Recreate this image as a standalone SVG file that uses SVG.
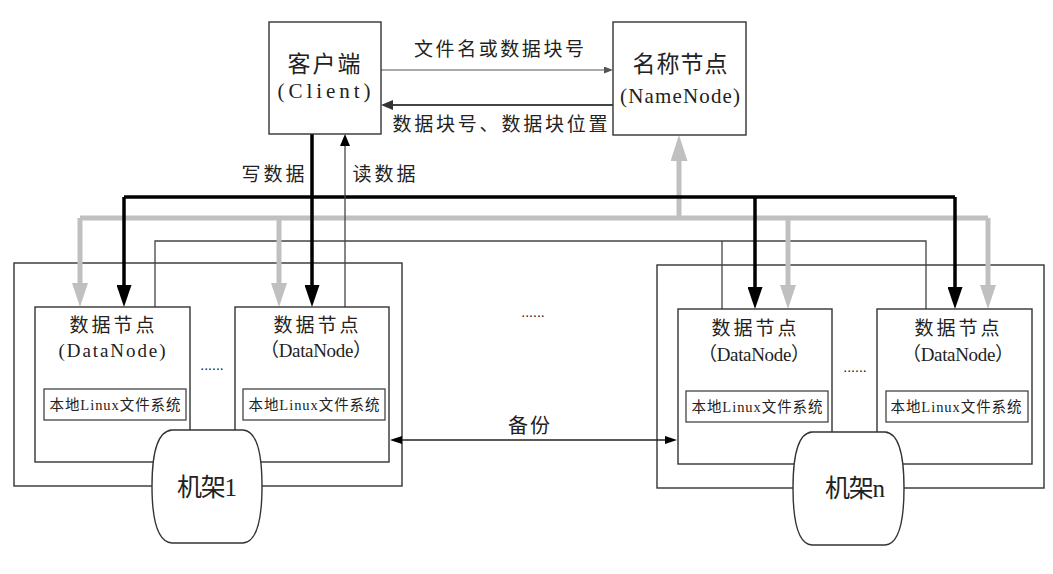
<svg xmlns="http://www.w3.org/2000/svg" width="1053" height="574" viewBox="0 0 1053 574">
<style>
.box{fill:#fff;stroke:#333;stroke-width:1.4}
.rack{fill:none;stroke:#333;stroke-width:1.4}
.inner{fill:#fff;stroke:#444;stroke-width:1.3}
.cn{font-family:"Noto Sans CJK SC",sans-serif;fill:#222}
.mono{font-family:"Liberation Serif","Noto Sans CJK SC",serif;fill:#222}
.dots{font-family:"Liberation Sans",sans-serif;font-size:14px;fill:#111}
.blk{fill:none;stroke:#000;stroke-width:3.5}
.gry{fill:none;stroke:#c0c0c0;stroke-width:5}
.thin{fill:none;stroke:#444;stroke-width:1.3}
</style>
<defs>
<marker id="ak" markerUnits="userSpaceOnUse" orient="auto" markerWidth="22" markerHeight="15" refX="0" refY="7.5"><path d="M0,0 L22,7.5 L0,15 Z" fill="#000"/></marker>
<marker id="ag" markerUnits="userSpaceOnUse" orient="auto" markerWidth="24" markerHeight="16" refX="0" refY="8"><path d="M0,0 L24,8 L0,16 Z" fill="#c0c0c0"/></marker>
<marker id="agu" markerUnits="userSpaceOnUse" orient="auto" markerWidth="26" markerHeight="17" refX="0" refY="8.5"><path d="M0,0 L26,8.5 L0,17 Z" fill="#c0c0c0"/></marker>
<marker id="as" markerUnits="userSpaceOnUse" orient="auto" markerWidth="12" markerHeight="10" refX="0" refY="5"><path d="M0,0 L12,5 L0,10 Z" fill="#000"/></marker>
<marker id="at" markerUnits="userSpaceOnUse" orient="auto" markerWidth="9" markerHeight="7" refX="0" refY="3.5"><path d="M0,0 L9,3.5 L0,7 Z" fill="#555"/></marker>
<marker id="am" markerUnits="userSpaceOnUse" orient="auto" markerWidth="12" markerHeight="10" refX="0" refY="5"><path d="M0,0 L12,5 L0,10 Z" fill="#333"/></marker>
<marker id="ab" markerUnits="userSpaceOnUse" orient="auto-start-reverse" markerWidth="12" markerHeight="8" refX="0" refY="4"><path d="M0,0 L12,4 L0,8 Z" fill="#000"/></marker>
</defs>
<rect width="1053" height="574" fill="#fff"/>

<g id="rack1-frame"><rect class="rack" x="14" y="263" width="388" height="223"/></g>
<g id="rackn-frame"><rect class="rack" x="657" y="265" width="387" height="223"/></g>

<g id="connectors">
<path class="thin" d="M155,307 V241 H926 V309"/>
<path class="thin" d="M722,241 V309"/>
<path class="gry" d="M80,218 H988"/>
<path class="gry" d="M80,218 V283" marker-end="url(#ag)"/>
<path class="gry" d="M279,218 V283" marker-end="url(#ag)"/>
<path class="gry" d="M788,218 V285" marker-end="url(#ag)"/>
<path class="gry" d="M988,218 V285" marker-end="url(#ag)"/>
<path class="gry" d="M679,218 V161" marker-end="url(#agu)"/>
<path class="blk" d="M124,197 H955"/>
<path class="blk" d="M124,197 V285" marker-end="url(#ak)"/>
<path class="blk" d="M755,197 V287" marker-end="url(#ak)"/>
<path class="blk" d="M955,197 V287" marker-end="url(#ak)"/>
<path class="blk" d="M312,134 V285" marker-end="url(#ak)"/>
<path class="thin" d="M345,307 V146" marker-end="url(#as)"/>
<path d="M381,70 H604" fill="none" stroke="#555" stroke-width="1.2" marker-end="url(#at)"/>
<path d="M613,105 H393" fill="none" stroke="#444" stroke-width="2" marker-end="url(#am)"/>
<path d="M402,440 H665" fill="none" stroke="#222" stroke-width="1.3" marker-start="url(#ab)" marker-end="url(#ab)"/>
<text class="cn" x="499" y="56" font-size="19" text-anchor="middle" textLength="170" lengthAdjust="spacing">文件名或数据块号</text>
<text class="cn" x="500" y="131" font-size="19" text-anchor="middle" textLength="215" lengthAdjust="spacing">数据块号、数据块位置</text>
<text class="cn" x="273" y="181" font-size="19" text-anchor="middle" textLength="63" lengthAdjust="spacing">写数据</text>
<text class="cn" x="384" y="181" font-size="19" text-anchor="middle" textLength="63" lengthAdjust="spacing">读数据</text>
<text class="cn" x="529" y="433" font-size="20" text-anchor="middle" textLength="42" lengthAdjust="spacing">备份</text>
</g>

<g id="client">
<rect class="box" x="269" y="22" width="112" height="112"/>
<text class="cn" x="324" y="72" font-size="23" text-anchor="middle" textLength="73" lengthAdjust="spacing">客户端</text>
<text class="mono" x="324" y="98" font-size="21" text-anchor="middle" textLength="93" lengthAdjust="spacing">(Client)</text>
</g>

<g id="namenode">
<rect class="box" x="613" y="22" width="133" height="113"/>
<text class="cn" x="680" y="72" font-size="23" text-anchor="middle" textLength="95" lengthAdjust="spacing">名称节点</text>
<text class="mono" x="680" y="103" font-size="21" text-anchor="middle" textLength="120" lengthAdjust="spacing">(NameNode)</text>
</g>

<g id="datanode1">
<rect class="box" x="35" y="307" width="155" height="155"/>
<text class="cn" x="112" y="332" font-size="19" text-anchor="middle" textLength="85" lengthAdjust="spacing">数据节点</text>
<text class="mono" x="112" y="357" font-size="19" text-anchor="middle" textLength="107" lengthAdjust="spacing">(DataNode)</text>
<rect class="inner" x="44" y="389" width="142" height="31"/>
<text class="mono" x="115" y="410" font-size="14.5" text-anchor="middle" textLength="131" lengthAdjust="spacing">本地Linux文件系统</text>
</g>

<g id="datanode2">
<rect class="box" x="235" y="307" width="154" height="155"/>
<text class="cn" x="316" y="332" font-size="19" text-anchor="middle" textLength="85" lengthAdjust="spacing">数据节点</text>
<text class="mono" x="316" y="357" font-size="19" text-anchor="middle" textLength="112" lengthAdjust="spacing">（DataNode）</text>
<rect class="inner" x="243" y="389" width="142" height="31"/>
<text class="mono" x="314" y="410" font-size="14.5" text-anchor="middle" textLength="131" lengthAdjust="spacing">本地Linux文件系统</text>
</g>

<g id="datanode3">
<rect class="box" x="678" y="309" width="154" height="155"/>
<text class="cn" x="754" y="335" font-size="19" text-anchor="middle" textLength="85" lengthAdjust="spacing">数据节点</text>
<text class="mono" x="754" y="361" font-size="19" text-anchor="middle" textLength="112" lengthAdjust="spacing">（DataNode）</text>
<rect class="inner" x="686" y="391" width="142" height="31"/>
<text class="mono" x="757" y="412" font-size="14.5" text-anchor="middle" textLength="131" lengthAdjust="spacing">本地Linux文件系统</text>
</g>

<g id="datanode4">
<rect class="box" x="877" y="309" width="155" height="155"/>
<text class="cn" x="957" y="335" font-size="19" text-anchor="middle" textLength="85" lengthAdjust="spacing">数据节点</text>
<text class="mono" x="958" y="361" font-size="19" text-anchor="middle" textLength="112" lengthAdjust="spacing">（DataNode）</text>
<rect class="inner" x="886" y="391" width="142" height="31"/>
<text class="mono" x="956" y="412" font-size="14.5" text-anchor="middle" textLength="131" lengthAdjust="spacing">本地Linux文件系统</text>
</g>

<g id="ellipsis">
<text class="dots" x="212" y="370" text-anchor="middle">......</text>
<text class="dots" x="533" y="317" text-anchor="middle">......</text>
<text class="dots" x="855" y="372" text-anchor="middle">......</text>
</g>

<g id="rack1">
<path class="box" d="M172,430 H243 C258,431 262,458 262,486 C262,514 258,542 243,543 H172 C156,542 152,514 152,486 C152,458 156,431 172,430 Z"/>
<text class="mono" x="207" y="496" font-size="25" text-anchor="middle" textLength="60" lengthAdjust="spacing">机架1</text>
</g>

<g id="rackn">
<path class="box" d="M812,432 H885 C900,433 904,460 904,488 C904,516 900,544 885,545 H812 C797,544 793,516 793,488 C793,460 797,433 812,432 Z"/>
<text class="mono" x="855" y="497" font-size="25" text-anchor="middle" textLength="60" lengthAdjust="spacing">机架n</text>
</g>
</svg>
